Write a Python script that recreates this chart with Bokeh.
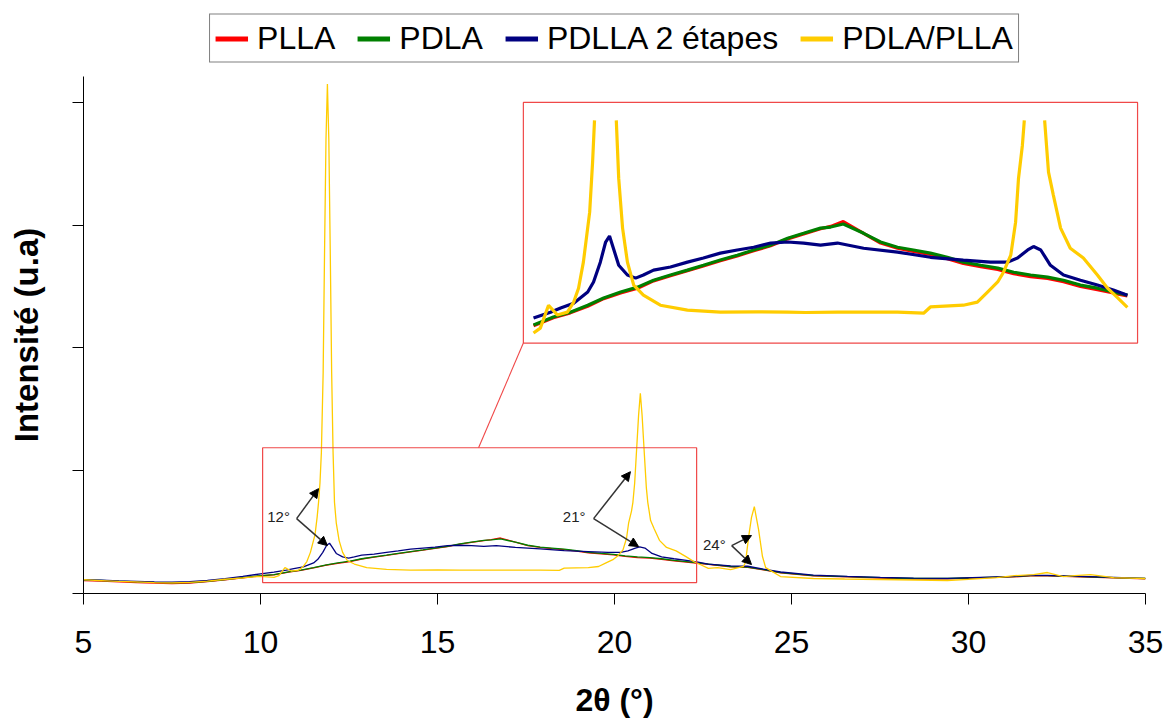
import numpy as np
from bokeh.plotting import figure
from bokeh.layouts import column
from bokeh.models import (Range1d, FixedTicker, Legend, LegendItem, BoxAnnotation,
                          Arrow, NormalHead, Label, CustomJSTickFormatter)
from bokeh.embed import file_html
from bokeh.resources import INLINE

# ---------------- data ----------------
series_names = ["PLLA", "PDLA", "PDLLA 2 étapes", "PDLA/PLLA"]
series_colors = ["#FF0000", "#008000", "#000080", "#FFCC00"]

x_ticks = [5, 10, 15, 20, 25, 30, 35]
y_ticks = [0, 1000, 2000, 3000, 4000]

amorph_x = [5.0, 5.5, 6.0, 6.5, 7.0, 7.5, 8.0, 8.5, 9.0, 9.5,
            10.0, 10.38, 10.79, 11.14, 11.5, 11.83, 12.18, 12.53, 12.86, 13.21,
            13.56, 13.89, 14.24, 14.59, 14.93, 15.28, 15.63, 15.96, 16.31, 16.52,
            16.78, 17.2, 17.55, 17.9, 18.23, 18.58, 18.93, 19.26, 19.62, 19.97,
            20.3, 20.65, 21.0, 21.33, 21.68, 22.03, 22.36, 22.65, 23.28, 23.76,
            24.21, 24.69, 25.62, 26.58, 27.51, 28.45, 29.41, 30.34, 31.27, 31.75,
            32.23, 33.16, 34.1, 35.0]

plla_y = [106, 100, 94, 88, 84, 80, 84, 96, 112, 128,
          144, 152, 175, 189, 208, 230, 246, 260, 281, 296,
          310, 324, 339, 353, 368, 382, 402, 416, 431, 438,
          452, 418, 390, 375, 366, 357, 345, 331, 322, 314,
          302, 293, 288, 279, 265, 256, 246, 238, 218, 212,
          192, 168, 143, 135, 126, 118, 119, 127, 135, 143,
          143, 135, 127, 119]

pdla_y = [110, 106, 100, 95, 90, 86, 88, 98, 114, 130,
          146, 154, 177, 191, 211, 232, 249, 263, 283, 298,
          312, 326, 341, 355, 370, 384, 404, 418, 433, 436,
          445, 418, 393, 378, 370, 361, 349, 335, 326, 318,
          306, 298, 292, 283, 269, 260, 249, 240, 220, 215,
          195, 171, 146, 138, 130, 122, 122, 130, 138, 146,
          146, 138, 130, 122]

pdlla_x = [5.0, 5.5, 6.0, 6.5, 7.0, 7.5, 8.0, 8.5, 9.0, 9.5,
           10.0, 10.38, 10.73, 10.94, 11.21, 11.5, 11.62, 11.76, 11.87, 11.95,
           12.03, 12.14, 12.32, 12.49, 12.65, 12.86, 13.21, 13.56, 13.89, 14.24,
           14.59, 14.93, 15.28, 15.63, 15.96, 16.31, 16.66, 17.2, 17.9, 18.58,
           19.26, 19.82, 20.17, 20.38, 20.59, 20.71, 20.86, 21.06, 21.33, 21.68,
           22.03, 22.36, 22.65, 23.28, 23.76, 24.21, 24.69, 25.62, 26.58, 27.51,
           28.45, 29.41, 30.34, 31.27, 31.75, 32.23, 33.16, 34.1, 35.0]
pdlla_y = [112, 108, 102, 98, 94, 92, 96, 106, 122, 140,
           160, 174, 191, 203, 217, 249, 278, 335, 393, 410,
           375, 326, 298, 289, 298, 312, 321, 335, 347, 361,
           370, 378, 390, 393, 390, 384, 390, 375, 364, 349,
           341, 335, 335, 347, 370, 380, 370, 326, 298, 283,
           269, 255, 240, 225, 222, 198, 175, 150, 140, 132,
           125, 124, 132, 140, 148, 148, 140, 132, 124]

blend_x = [5.0, 5.5, 6.0, 6.5, 7.0, 7.5, 8.0, 8.5, 9.0, 9.5,
           10.0, 10.38, 10.52, 10.69, 10.87, 11.08, 11.21, 11.31, 11.41, 11.54,
           11.6, 11.64, 11.68, 11.72, 11.77, 11.81, 11.85, 11.89, 11.93, 11.97,
           12.01, 12.05, 12.09, 12.14, 12.22, 12.32, 12.45, 12.65, 13.0, 13.56,
           14.24, 15.0, 15.63, 16.0, 16.66, 17.2, 17.9, 18.44, 18.58, 19.26,
           19.55, 19.76, 19.97, 20.09, 20.24, 20.34, 20.4, 20.48, 20.52, 20.57,
           20.62, 20.68, 20.73, 20.78, 20.84, 20.9, 20.94, 21.02, 21.12, 21.27,
           21.47, 21.74, 22.03, 22.24, 22.45, 22.65, 22.91, 23.28, 23.64, 23.7,
           23.79, 23.87, 23.95, 24.07, 24.18, 24.27, 24.69, 25.62, 26.5, 27.5,
           28.5, 29.4, 30.0, 30.8, 31.3, 31.84, 32.23, 32.68, 33.0, 33.45,
           34.1, 35.0]
blend_y = [112, 105, 98, 94, 88, 86, 90, 100, 116, 128,
           140, 131, 145, 211, 183, 191, 220, 260, 335, 479,
           622, 743, 900, 1150, 1800, 2800, 3700, 4150, 3700, 2800,
           1800, 1150, 743, 576, 433, 335, 269, 240, 211, 197,
           191, 192, 191, 190, 191, 191, 191, 188, 206, 211,
           220, 249, 278, 306, 355, 450, 576, 671, 743, 900,
           1150, 1450, 1630, 1450, 1150, 860, 743, 594, 528, 433,
           375, 347, 298, 260, 232, 205, 211, 195, 220, 252,
           463, 620, 707, 520, 301, 211, 138, 122, 118, 114,
           110, 106, 115, 130, 145, 154, 171, 138, 145, 154,
           130, 122]

series_x = [amorph_x, amorph_x, pdlla_x, blend_x]
series_y = [plla_y, pdla_y, pdlla_y, blend_y]

# annotations: (label, text position, arrow origin, upper tip, lower tip)
peak_labels = ["12°", "21°", "24°"]
label_pos = [(10.51, 626), (18.86, 626), (22.82, 398)]
arrow_origin = [(11.02, 610), (19.41, 610), (23.31, 390)]
arrow_up_tip = [(11.64, 854), (20.45, 992), (23.87, 472)]
arrow_low_tip = [(11.89, 390), (20.68, 382), (23.87, 236)]

# zoom window (main coordinates) and inset frame (inset coordinates)
ZOOM = dict(left=10.06, right=22.32, bottom=89, top=1187)
INSET_X_RANGE = (1.082, 23.024)
INSET_Y_RANGE = (-619.0, 869.5)
INSET_BOX = dict(left=10.17, right=22.86, bottom=102, top=795)
INSET_WINDOW = (10.38, 22.65)
INSET_CLIP = 743
CONNECT_X = 16.16

FONT = "Liberation Sans"
BOX_COLOR = "#F04848"

# ---------------- legend strip ----------------
lf = figure(width=1165, height=76, x_range=Range1d(0, 1), y_range=Range1d(0, 1),
            output_backend="svg", toolbar_location=None,
            x_axis_location=None, y_axis_location=None,
            min_border_left=83, min_border_right=20, min_border_top=0, min_border_bottom=0)
lf.xgrid.visible = False
lf.ygrid.visible = False
lf.outline_line_color = None
items = []
for name, c in zip(series_names, series_colors):
    r = lf.line(x=[np.nan], y=[np.nan], line_color=c, line_width=5)
    items.append(LegendItem(label=name, renderers=[r]))
legend = Legend(items=items, orientation="horizontal", location="center",
                border_line_color="black", border_line_width=1, padding=5, spacing=22,
                label_standoff=9, glyph_width=33, glyph_height=20,
                label_text_font=FONT, label_text_font_size="32px", label_text_color="black",
                margin=0, background_fill_color="white", background_fill_alpha=1)
lf.add_layout(legend, "center")

# ---------------- main figure ----------------
p = figure(width=1165, height=644, x_range=Range1d(5, 35), y_range=Range1d(0, 4211),
           output_backend="svg", toolbar_location=None,
           min_border_left=83, min_border_right=20, min_border_top=0, min_border_bottom=126)
p.extra_x_ranges = {"ix": Range1d(*INSET_X_RANGE)}
p.extra_y_ranges = {"iy": Range1d(*INSET_Y_RANGE)}
p.outline_line_color = None
p.xgrid.visible = False
p.ygrid.visible = False

# axes
p.xaxis.ticker = FixedTicker(ticks=x_ticks)
p.xaxis.minor_tick_line_color = None
p.xaxis.major_tick_out = 11
p.xaxis.major_tick_in = 0
p.xaxis.axis_line_color = "black"
p.xaxis.major_tick_line_color = "black"
p.xaxis.major_label_text_font = FONT
p.xaxis.major_label_text_font_size = "32px"
p.xaxis.major_label_text_color = "black"
p.xaxis.major_label_text_line_height = 0.9
p.xaxis.major_label_standoff = 26
p.xaxis.axis_label = "2θ (°)"
p.xaxis.axis_label_text_font = FONT
p.xaxis.axis_label_text_font_size = "32px"
p.xaxis.axis_label_text_font_style = "bold"
p.xaxis.axis_label_text_color = "black"
p.xaxis.axis_label_text_line_height = 0.9
p.xaxis.axis_label_standoff = 26

p.yaxis.ticker = FixedTicker(ticks=y_ticks)
p.yaxis.minor_tick_line_color = None
p.yaxis.major_tick_out = 11
p.yaxis.major_tick_in = 0
p.yaxis.axis_line_color = "black"
p.yaxis.major_tick_line_color = "black"
p.yaxis.formatter = CustomJSTickFormatter(code="return ''")
p.yaxis.major_label_standoff = 0
p.yaxis.axis_label = "Intensité (u.a)"
p.yaxis.axis_label_text_font = FONT
p.yaxis.axis_label_text_font_size = "33px"
p.yaxis.axis_label_text_font_style = "bold"
p.yaxis.axis_label_text_color = "black"
p.yaxis.axis_label_standoff = 28

# main curves
for xs, ys, c in zip(series_x, series_y, series_colors):
    p.line(xs, ys, line_color=c, line_width=1.3)

# zoom rectangle in main plot
p.add_layout(BoxAnnotation(left=ZOOM["left"], right=ZOOM["right"], bottom=ZOOM["bottom"],
                           top=ZOOM["top"], fill_color=None, line_color=BOX_COLOR,
                           line_alpha=1.0, line_width=1.2))

# inset frame
p.add_layout(BoxAnnotation(left=INSET_BOX["left"], right=INSET_BOX["right"],
                           bottom=INSET_BOX["bottom"], top=INSET_BOX["top"],
                           x_range_name="ix", y_range_name="iy",
                           fill_color=None, line_color=BOX_COLOR, line_alpha=1.0, line_width=1.2))

# connector from zoom box to inset corner (inset corner converted to main coords)
xr, yr = p.x_range, p.y_range
def inset_to_main(xi, yi):
    xm = xr.start + (xi - INSET_X_RANGE[0]) * (xr.end - xr.start) / (INSET_X_RANGE[1] - INSET_X_RANGE[0])
    ym = yr.start + (yi - INSET_Y_RANGE[0]) * (yr.end - yr.start) / (INSET_Y_RANGE[1] - INSET_Y_RANGE[0])
    return xm, ym
cx, cy = inset_to_main(INSET_BOX["left"], INSET_BOX["bottom"])
p.segment(x0=[CONNECT_X], y0=[ZOOM["top"]], x1=[cx], y1=[cy], line_color=BOX_COLOR, line_width=1.1)

# inset curves
for xs, ys, c in zip(series_x, series_y, series_colors):
    xa = np.array(xs, dtype=float)
    ya = np.array(ys, dtype=float)
    m = (xa >= INSET_WINDOW[0]) & (xa <= INSET_WINDOW[1])
    xa, ya = xa[m], ya[m]
    ya = np.where(ya > INSET_CLIP, np.nan, ya)
    p.line(xa, ya, line_color=c, line_width=3.2, x_range_name="ix", y_range_name="iy")

# peak annotations
for txt, lp, o, up, lo in zip(peak_labels, label_pos, arrow_origin, arrow_up_tip, arrow_low_tip):
    for tip in (up, lo):
        p.add_layout(Arrow(x_start=o[0], y_start=o[1], x_end=tip[0], y_end=tip[1],
                           line_color="#333333", line_width=1.5,
                           end=NormalHead(size=9, fill_color="black", line_color="black", line_width=1)))
    p.add_layout(Label(x=lp[0], y=lp[1], text=txt, text_font=FONT, text_font_size="15px",
                       text_color="#222222", text_align="center", text_baseline="middle"))

layout = column(lf, p, spacing=0)
open("out.html", "w").write(file_html(layout, INLINE))
